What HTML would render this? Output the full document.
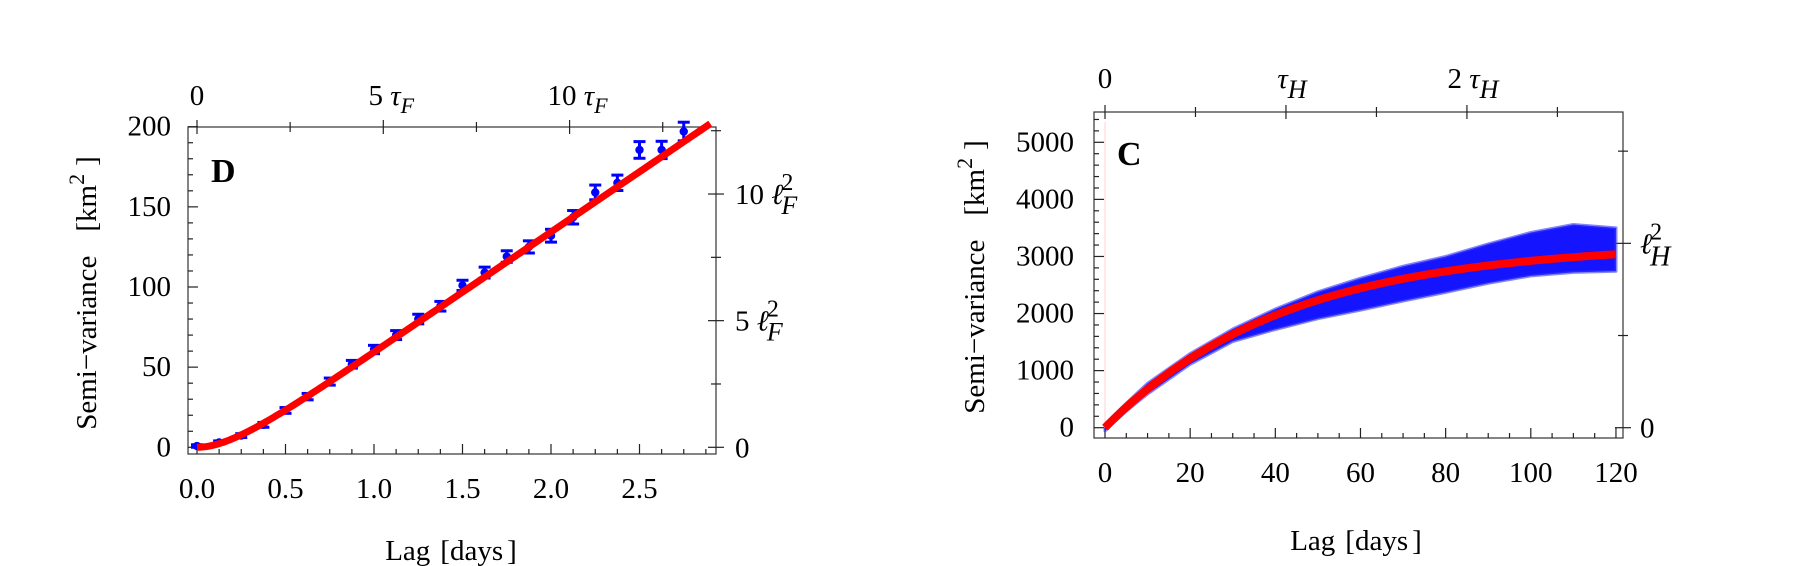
<!DOCTYPE html>
<html><head><meta charset="utf-8"><style>
html,body{margin:0;padding:0;background:#fff;}
svg{display:block;font-family:"Liberation Serif",serif;}
</style></head><body>
<svg id="fig" width="1800" height="566" viewBox="0 0 1800 566" xmlns="http://www.w3.org/2000/svg"></svg>
<script>
// ---- Panel D data ----
const dLags = [0,0.125,0.25,0.375,0.5,0.625,0.75,0.875,1.0,1.125,1.25,1.375,1.5,1.625,1.75,1.875,2.0,2.125,2.25,2.375,2.5,2.625,2.75];
const dValues = [0.8,3,7.3,14,23,31.6,41,51.8,61,70,80,88,101,109,119,125,132,143.5,159,165,185.5,185.5,197];
const dErrors = [0.8,1,1.2,1.5,1.8,2,2.2,2.4,2.6,2.8,3,3,3.2,3.4,3.6,3.8,4,4.2,4.6,4.8,5.2,5.4,5.8];
const dXTicks = [0,0.5,1.0,1.5,2.0,2.5];
const dXTickLabels = ["0.0","0.5","1.0","1.5","2.0","2.5"];
const dYTicks = [0,50,100,150,200];
const dTauF = 0.2105, dEllF2 = 15.8, dFitEnd = 2.9;
// ---- Panel C data ----
const cLags =  [0,   2,   5,   10,  20,   30,   40,   50,   60,   70,   80,   90,   100,  110,  120];
const cUpper = [60,  210, 430, 780, 1300, 1730, 2080, 2380, 2620, 2830, 3000, 3220, 3420, 3560, 3500];
const cLower = [-60, 90,  290, 590, 1110, 1510, 1720, 1910, 2060, 2220, 2370, 2530, 2660, 2720, 2740];
const cXTicks = [0,20,40,60,80,100,120];
const cYTicks = [0,1000,2000,3000,4000,5000];
const cTauH = 42.5, cEllH2 = 3230, cFitEnd = 120;

const svg = document.getElementById('fig');
const NS = 'http://www.w3.org/2000/svg';
function mk(tag, attrs, parent){const e=document.createElementNS(NS,tag);for(const k in attrs)e.setAttribute(k,attrs[k]);(parent||svg).appendChild(e);return e;}
function txt(s, x, y, size, anchor, parent, extra){const t=mk('text',Object.assign({x:x,y:y,'font-size':size,'text-anchor':anchor||'middle',fill:'#000'},extra||{}),parent);t.textContent=s;return t;}
function line(x1,y1,x2,y2,w,parent,col){return mk('line',{x1:x1,y1:y1,x2:x2,y2:y2,stroke:col||'#222','stroke-width':w||1.2},parent);}

// ============ Panel D ============
(function(){
  const g = mk('g',{});
  
  
  const L=188,R=716,T=127,B=454;
  const x = v => 197 + v*177;
  const y = v => 447.3 - v*1.603;
  mk('rect',{x:L,y:T,width:R-L,height:B-T,fill:'none',stroke:'#333','stroke-width':1.2},g);
  for(let v=0; v<=2.9; v+=0.125){const maj=Math.abs(v*2-Math.round(v*2))<1e-6; line(x(v),B,x(v),B-(maj?10:5),1.2,g);}
  dXTicks.forEach((v,i)=>{const t=txt(dXTickLabels[i],x(v),498,29,'middle',g);  });
  for(let v=0; v<=200; v+=10){const maj=v%50===0; line(L,y(v),L+(maj?10:5),y(v),1.2,g);}
  dYTicks.forEach(v=>{const t=txt(String(v),171,y(v)+9,29,'end',g);  });
  for(let k=0;k*dTauF<=2.9;k+=2.5){const maj=k%5===0; line(x(k*dTauF),T-(maj?7:5),x(k*dTauF),T+(maj?7:5),1.2,g);}
  const tt0=txt('0',x(0),105,29,'middle',g);  
  [[5,'5'],[10,'10']].forEach(([k,s])=>{const t=mk('text',{x:x(k*dTauF)+8,y:105,'font-size':29,'text-anchor':'middle'},g);t.innerHTML=s+' <tspan font-style="italic">τ</tspan><tspan font-style="italic" font-size="22" dy="8">F</tspan>';});
  for(let k=0;k*dEllF2<=200;k+=2.5){const maj=k%5===0; line(R-(maj?8:5),y(k*dEllF2),R+(maj?8:5),y(k*dEllF2),1.2,g);}
  const r0=txt('0',735,y(0)+10,29,'start',g);  
  [[5,'5'],[10,'10']].forEach(([k,s])=>{const t=mk('text',{x:735,y:y(k*dEllF2)+10,'font-size':29,'text-anchor':'start'},g);t.innerHTML=s+' <tspan font-style="italic">ℓ</tspan><tspan font-size="24" dy="-14" dx="-2">2</tspan><tspan font-style="italic" font-size="26" dy="24" dx="-12">F</tspan>';});
  dLags.forEach((v,i)=>{
    const pg=mk('g',{},g);  
    const px=x(v), py=y(dValues[i]), e=dErrors[i]*1.603;
    line(px,py-e,px,py+e,3,pg,'#0000ff');
    line(px-6,py-e,px+6,py-e,3,pg,'#0000ff');
    line(px-6,py+e,px+6,py+e,3,pg,'#0000ff');
    mk('circle',{cx:px,cy:py,r:4.2,fill:'#0000ff'},pg);
  });
  let d=''; for(let i=0;i<=200;i++){const t=dFitEnd*i/200; const v=dEllF2*(t/dTauF-1+Math.exp(-t/dTauF)); d+=(i?'L':'M')+x(t).toFixed(2)+','+y(v).toFixed(2);}
  const fit=mk('path',{d:d,fill:'none',stroke:'#ff0000','stroke-width':7},g);  
  const lab=txt('D',211,182,34,'start',g,{'font-weight':'bold'});  
  const xt=mk('text',{x:451,y:560,'font-size':29,'text-anchor':'middle'},g);  
  xt.innerHTML='Lag<tspan dx="10">[days</tspan><tspan dx="4">]</tspan>';
  const yt=mk('text',{x:0,y:0,'font-size':29,'text-anchor':'middle',transform:'translate(96,293) rotate(-90)'},g);
   
  yt.innerHTML='Semi−variance<tspan dx="24">[km</tspan><tspan font-size="22" dy="-12">2</tspan><tspan dy="12" dx="8">]</tspan>';
})();

// ============ Panel C ============
(function(){
  const g = mk('g',{});
  
  
  const L=1094,R=1623,T=112,B=438;
  const x = v => 1105 + v*4.258;
  const y = v => 427.7 - v*0.05708;
  mk('rect',{x:L,y:T,width:R-L,height:B-T,fill:'none',stroke:'#333','stroke-width':1.2},g);
  line(x(0),T+10,x(0),B-10,1,g,'#ffd0d0');
  for(let v=0; v<=120; v+=5){const maj=v%20===0; line(x(v),B,x(v),B-(maj?10:5),1.2,g);}
  cXTicks.forEach(v=>{const t=txt(String(v),x(v),482,29,'middle',g);  });
  for(let v=0; v<=5400; v+=200){const maj=v%1000===0; line(L,y(v),L+(maj?10:5),y(v),1.2,g);}
  cYTicks.forEach(v=>{const t=txt(String(v),1074,y(v)+9,29,'end',g);  });
  for(let k=0;k*cTauH<=122;k+=0.5){const maj=Math.abs(k-Math.round(k))<1e-6; line(x(k*cTauH),T-(maj?7:5),x(k*cTauH),T+(maj?7:5),1.2,g);}
  const tt0=txt('0',x(0),88,29,'middle',g);  
  [[1,''],[2,'2 ']].forEach(([k,s])=>{const t=mk('text',{x:x(k*cTauH)+6,y:88,'font-size':29,'text-anchor':'middle'},g);t.innerHTML=s+'<tspan font-style="italic">τ</tspan><tspan font-style="italic" font-size="26" dy="10">H</tspan>';});
  for(let k=0;k*cEllH2<=5400;k+=0.5){const maj=Math.abs(k-Math.round(k))<1e-6; line(R-(maj?8:5),y(k*cEllH2),R+(maj?8:5),y(k*cEllH2),1.2,g);}
  const r0=txt('0',1640,y(0)+10,29,'start',g);  
  const rl=mk('text',{x:1640,y:y(cEllH2)+10,'font-size':29,'text-anchor':'start'},g);  
  rl.innerHTML='<tspan font-style="italic">ℓ</tspan><tspan font-size="24" dy="-14" dx="-2">2</tspan><tspan font-style="italic" font-size="28" dy="26" dx="-12">H</tspan>';
  let p=''; cLags.forEach((v,i)=>{p+=(i?'L':'M')+x(v).toFixed(1)+','+y(cUpper[i]).toFixed(1);});
  for(let i=cLags.length-1;i>=0;i--){p+='L'+x(cLags[i]).toFixed(1)+','+y(cLower[i]).toFixed(1);} p+='Z';
  const band=mk('path',{d:p,fill:'#0000ff','fill-opacity':0.92,stroke:'#3333ff','stroke-width':3,'stroke-opacity':0.6,'stroke-linejoin':'round'},g);
   
  let d=''; for(let i=0;i<=200;i++){const t=cFitEnd*i/200; const v=cEllH2*(1-Math.exp(-t/cTauH)); d+=(i?'L':'M')+x(t).toFixed(2)+','+y(v).toFixed(2);}
  const fit=mk('path',{d:d,fill:'none',stroke:'#ff0000','stroke-width':8},g);  
  const lab=txt('C',1117,165,34,'start',g,{'font-weight':'bold'});  
  const xt=mk('text',{x:1356,y:550,'font-size':29,'text-anchor':'middle'},g);  
  xt.innerHTML='Lag<tspan dx="10">[days</tspan><tspan dx="4">]</tspan>';
  const yt=mk('text',{x:0,y:0,'font-size':29,'text-anchor':'middle',transform:'translate(984,277) rotate(-90)'},g);
   
  yt.innerHTML='Semi−variance<tspan dx="24">[km</tspan><tspan font-size="22" dy="-12">2</tspan><tspan dy="12" dx="8">]</tspan>';
})();
</script>
</body></html>
